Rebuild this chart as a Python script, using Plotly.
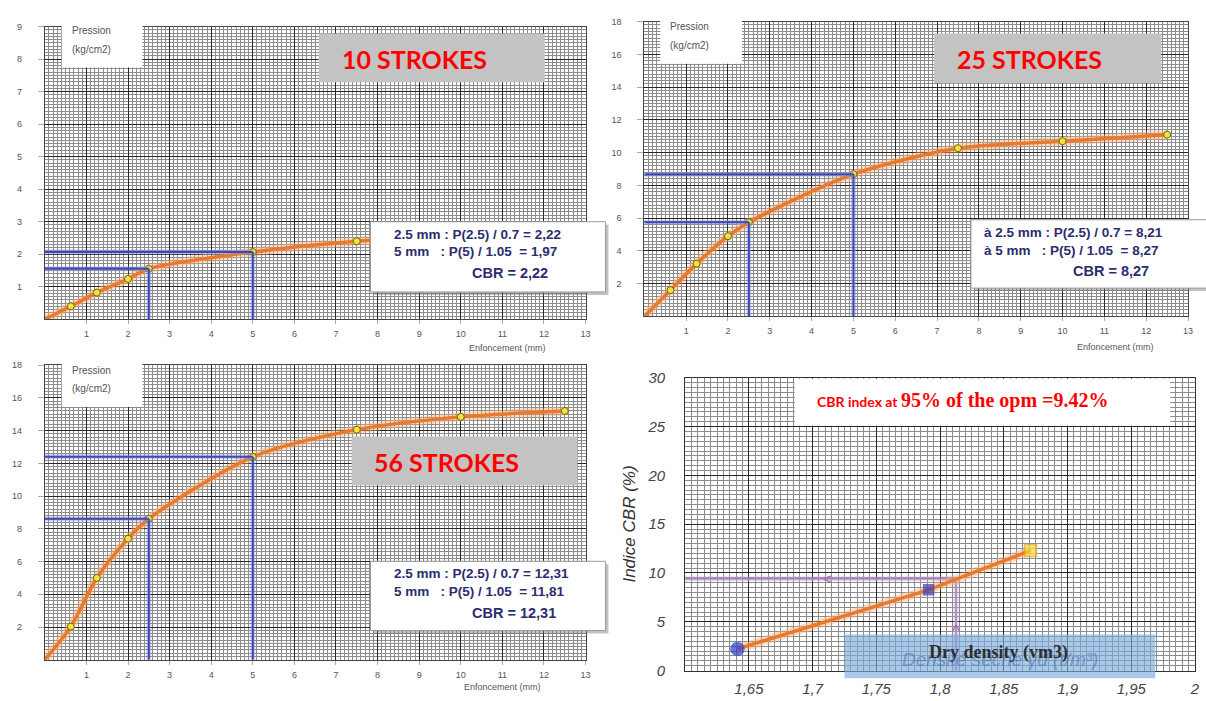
import plotly.graph_objects as go

W, H = 1206, 701

# CBR penetration test: penetration (mm) vs pressure (kg/cm2)
penetration = [0.625, 1.25, 2.0, 2.5, 5.0, 7.5, 10.0, 12.5]
pressure_10 = [0.40, 0.82, 1.24, 1.554, 2.068, 2.40, 2.55, 2.65]
pressure_25 = [1.60, 3.22, 4.90, 5.747, 8.684, 10.27, 10.70, 11.10]
pressure_56 = [2.03, 5.00, 7.40, 8.617, 12.40, 14.06, 14.84, 15.20]

# Dry density (t/m3) of each compaction level and the 95% OPM reading
dry_density = [1.641, 1.791, 1.871]
density_95 = 1.8125
cbr_95 = 9.42

x_ticks = list(range(1, 14))
y_ticks_10 = list(range(1, 10))
y_ticks_hi = list(range(2, 19, 2))
cbr_x_ticks = [1.65, 1.70, 1.75, 1.80, 1.85, 1.90, 1.95, 2.0]
cbr_x_text = ["1,65", "1,7", "1,75", "1,8", "1,85", "1,9", "1,95", "2"]
cbr_y_ticks = [0, 5, 10, 15, 20, 25, 30]

ORANGE = "#e8792f"
HALO = "rgba(245,175,120,0.45)"
NAVY = "#2b2d6e"
GUIDE = "#3f48ad"
MAJOR = "#262626"
MINOR = "#8c8c8c"


def px(x):
    return x / W


def py(y):
    return 1 - y / H


def fmt(v):
    return f"{v:.2f}".replace(".", ",")


def cbr_values(p):
    p25 = p[penetration.index(2.5)]
    p50 = p[penetration.index(5.0)]
    c25 = round(p25 / 0.7, 2)
    c50 = round(p50 / 1.05, 2)
    return p25, p50, c25, c50, max(c25, c50)


def note(x, y, text, font, xanchor="center", yanchor="middle", **kw):
    return dict(xref="paper", yref="paper", x=px(x), y=py(y), text=text, font=font,
                xanchor=xanchor, yanchor=yanchor, showarrow=False, **kw)


panels = [
    dict(p=pressure_10, n="10", xa="x", ya="y", xd=(45, 588), yd=(318, 18), yr=(0, 9),
         yt=y_ticks_10, yminor=0.1, prefix="", box=(372, 218, 608, 290),
         label_box=(320, 25, 547, 75), pres_box=(62, 14, 143, 60), enf=(510, 347)),
    dict(p=pressure_25, n="25", xa="x2", ya="y2", xd=(647, 1193), yd=(315, 13), yr=(0, 18),
         yt=y_ticks_hi, yminor=0.2, prefix="à ", box=(975, 216, 1212, 286),
         label_box=(938, 25, 1166, 76), pres_box=(663, 10, 745, 56), enf=(1120, 346)),
    dict(p=pressure_56, n="56", xa="x3", ya="y3", xd=(45, 588), yd=(667, 365), yr=(0, 18),
         yt=y_ticks_hi, yminor=0.2, prefix="", box=(372, 566, 608, 637),
         label_box=(353, 438, 580, 488), pres_box=(62, 362, 143, 408), enf=(505, 695)),
]

fig = go.Figure()
layout = dict(width=W, height=H, margin=dict(l=0, r=0, t=0, b=0),
              paper_bgcolor="white", plot_bgcolor="white", showlegend=False)
shapes, annotations = [], []
cbr_final = []
small_grey = dict(family="Liberation Sans", size=9, color="#555")

for i, pn in enumerate(panels):
    sfx = "" if i == 0 else str(i + 1)
    p25, p50, c25, c50, cbr = cbr_values(pn["p"])
    cbr_final.append(cbr)

    layout["xaxis" + sfx] = dict(
        domain=[px(pn["xd"][0]), px(pn["xd"][1])], range=[0, 13], anchor=pn["ya"],
        tickvals=x_ticks, showgrid=True, gridcolor=MAJOR, gridwidth=1.1,
        minor=dict(dtick=0.1, tick0=0, showgrid=True, gridcolor=MINOR, gridwidth=0.7),
        showline=True, linecolor="#444", mirror=True, zeroline=False,
        ticks="outside", ticklen=4, tickcolor="#aaa", ticklabelstandoff=2,
        tickfont=small_grey, fixedrange=True)
    layout["yaxis" + sfx] = dict(
        domain=[py(pn["yd"][0]), py(pn["yd"][1])], range=list(pn["yr"]), anchor=pn["xa"],
        tickvals=pn["yt"], showgrid=True, gridcolor=MAJOR, gridwidth=1.1,
        minor=dict(dtick=pn["yminor"], tick0=0, showgrid=True, gridcolor=MINOR, gridwidth=0.7),
        showline=True, linecolor="#444", mirror=True, zeroline=False,
        ticks="outside", ticklen=6, tickcolor="#aaa", ticklabelstandoff=14,
        tickfont=small_grey, fixedrange=True)

    # blue construction lines at 2.5 mm and 5 mm
    for xv, yv in [(2.5, p25), (5.0, p50)]:
        for col, wd in [("rgba(130,150,230,0.45)", 5), (GUIDE, 2)]:
            shapes.append(dict(type="line", xref=pn["xa"], yref=pn["ya"], x0=xv, x1=xv,
                               y0=0, y1=yv, line=dict(color=col, width=wd), layer="above"))
            shapes.append(dict(type="line", xref=pn["xa"], yref=pn["ya"], x0=0, x1=xv,
                               y0=yv, y1=yv, line=dict(color=col, width=wd), layer="above"))

    xs = [0] + penetration
    ys = [0] + pn["p"]
    fig.add_trace(go.Scatter(x=xs, y=ys, xaxis=pn["xa"], yaxis=pn["ya"], mode="lines",
                             line=dict(color=HALO, width=9, shape="spline", smoothing=0.8),
                             hoverinfo="skip"))
    fig.add_trace(go.Scatter(x=xs, y=ys, xaxis=pn["xa"], yaxis=pn["ya"], mode="lines",
                             line=dict(color=ORANGE, width=3.5, shape="spline", smoothing=0.8)))
    fig.add_trace(go.Scatter(x=penetration, y=pn["p"], xaxis=pn["xa"], yaxis=pn["ya"],
                             mode="markers",
                             marker=dict(color="#f3e43a", size=7,
                                         line=dict(color="#6e6512", width=1))))

    # "Pression (kg/cm2)" caption box
    x0, y0, x1, y1 = pn["pres_box"]
    shapes.append(dict(type="rect", xref="paper", yref="paper", x0=px(x0), x1=px(x1),
                       y0=py(y1), y1=py(y0), fillcolor="white", line=dict(width=0),
                       layer="above"))
    cap_font = dict(family="Liberation Sans", size=10, color="#555")
    annotations.append(note(x0 + 8, y0 + 8, "Pression", cap_font, xanchor="left"))
    annotations.append(note(x0 + 8, y0 + 27, "(kg/cm2)", cap_font, xanchor="left"))

    # stroke count label
    x0, y0, x1, y1 = pn["label_box"]
    shapes.append(dict(type="rect", xref="paper", yref="paper", x0=px(x0), x1=px(x1),
                       y0=py(y1), y1=py(y0), fillcolor="#c3c3c3", line=dict(width=0),
                       layer="above"))
    annotations.append(note(x0 + 21, (y0 + y1) / 2 + 1, f"<b>{pn['n']} STROKES</b>",
                            dict(family="Lato", size=25, color="#ff0000"), xanchor="left"))

    # CBR calculation box
    x0, y0, x1, y1 = pn["box"]
    shapes.append(dict(type="rect", xref="paper", yref="paper", x0=px(x0 + 3), x1=px(x1 + 3),
                       y0=py(y1 + 3), y1=py(y0 + 3), fillcolor="rgba(120,120,120,0.45)",
                       line=dict(width=0), layer="above"))
    shapes.append(dict(type="rect", xref="paper", yref="paper", x0=px(x0), x1=px(x1),
                       y0=py(y1), y1=py(y0), fillcolor="white",
                       line=dict(color="#9a9a9a", width=1), layer="above"))
    nb = "\u00a0"
    pre = pn["prefix"]
    box_font = dict(family="Liberation Sans", size=13.5, color=NAVY)
    lines = [
        (f"{pre}2.5 mm : P(2.5) / 0.7 = {fmt(c25)}", y0 + 13),
        (f"{pre}5 mm{nb*3}: P(5) / 1.05{nb*2}= {fmt(c50)}", y0 + 31),
    ]
    for txt, yy in lines:
        annotations.append(note(x0 + 22 - (11 if pre else 0), yy, f"<b>{txt}</b>", box_font,
                                xanchor="left"))
    annotations.append(note(x0 + 100, y0 + 53, f"<b>CBR = {fmt(cbr)}</b>",
                            dict(family="Liberation Sans", size=14.5, color=NAVY),
                            xanchor="left"))

    # x axis caption
    annotations.append(note(pn["enf"][0], pn["enf"][1], "Enfoncement (mm)", small_grey))

# ---- CBR index vs dry density ----
italic_tick = dict(family="Liberation Sans", size=15, color="#444", style="italic")
layout["xaxis4"] = dict(
    domain=[px(688), px(1200)], range=[1.6, 2.0], anchor="y4",
    tickvals=cbr_x_ticks, ticktext=cbr_x_text, showgrid=True, gridcolor=MAJOR, gridwidth=1.1,
    minor=dict(dtick=0.005, tick0=1.6, showgrid=True, gridcolor=MINOR, gridwidth=0.7),
    showline=True, linecolor="#333", mirror=True, zeroline=False, ticks="",
    ticklabelstandoff=4, tickfont=italic_tick, fixedrange=True)
layout["yaxis4"] = dict(
    domain=[py(678), py(378)], range=[0, 30], anchor="x4",
    tickvals=cbr_y_ticks, showgrid=True, gridcolor=MAJOR, gridwidth=1.1,
    minor=dict(dtick=0.5, tick0=0, showgrid=True, gridcolor=MINOR, gridwidth=0.7),
    showline=True, linecolor="#333", mirror=True, zeroline=False, ticks="",
    ticklabelstandoff=16, tickfont=italic_tick, fixedrange=True)

# purple reading lines at 95% of OPM
for col, wd in [("rgba(200,170,220,0.45)", 5), ("#a77bbb", 1.5)]:
    shapes.append(dict(type="line", xref="x4", yref="y4", x0=1.6, x1=density_95,
                       y0=cbr_95, y1=cbr_95, line=dict(color=col, width=wd), layer="between"))
    shapes.append(dict(type="line", xref="x4", yref="y4", x0=density_95, x1=density_95,
                       y0=0, y1=cbr_95, line=dict(color=col, width=wd), layer="between"))
purple = dict(family="Liberation Sans", size=15, color="#9a6ab0")
annotations.append(dict(xref="x4", yref="y4", x=1.712, y=cbr_95, showarrow=False, text="<",
                        xanchor="center", yanchor="middle", font=purple))
annotations.append(dict(xref="x4", yref="y4", x=density_95, y=4.0, showarrow=False, text="^",
                        xanchor="center", yanchor="middle",
                        font=dict(family="Liberation Sans", size=17, color="#9a6ab0")))

fig.add_trace(go.Scatter(x=dry_density, y=cbr_final, xaxis="x4", yaxis="y4", mode="lines",
                         line=dict(color=HALO, width=9)))
fig.add_trace(go.Scatter(x=dry_density, y=cbr_final, xaxis="x4", yaxis="y4", mode="lines",
                         line=dict(color=ORANGE, width=3.5)))
fig.add_trace(go.Scatter(x=dry_density, y=cbr_final, xaxis="x4", yaxis="y4", mode="markers",
                         marker=dict(symbol=["circle", "square", "square"],
                                     color=["#2a40c8", "#3a3fb5", "#f7df2e"],
                                     size=[13, 10, 12],
                                     line=dict(color=["#2a40c8", "#3a3fb5", "#e39a30"],
                                               width=1.5))))

annotations.append(note(632, 528, "Indice CBR (%)",
                        dict(family="Liberation Sans", size=17, color="#333", style="italic"),
                        textangle=-90))

# headline box
shapes.append(dict(type="rect", xref="paper", yref="paper", x0=px(798), x1=px(1175),
                   y0=py(427), y1=py(379), fillcolor="white", line=dict(width=0),
                   layer="above"))
annotations.append(note(818, 401,
                        ("<span style='font-family:Lato;font-size:14px'><b>CBR index at </b></span>"
                         f"<span style='font-family:Liberation Serif;font-size:20px'><b>95% of the opm ={cbr_95}%</b></span>"),
                        dict(color="#ff0000", size=14), xanchor="left"))

# dry density caption band
shapes.append(dict(type="rect", xref="paper", yref="paper", x0=px(848), x1=px(1160),
                   y0=py(686), y1=py(641), fillcolor="rgba(125,170,220,0.65)",
                   line=dict(width=0), layer="above"))
annotations.append(note(1004, 667, "Densité sèche γd (t/m³)",
                        dict(family="Liberation Sans", size=19, color="rgba(80,115,170,0.6)",
                             style="italic")))
annotations.append(note(1003, 660, "<b>Dry density (vm3)</b>",
                        dict(family="Liberation Serif", size=18, color="#2d2d2d")))

layout["shapes"] = shapes
layout["annotations"] = annotations
fig.update_layout(**layout)
fig.write_html("out.html")
